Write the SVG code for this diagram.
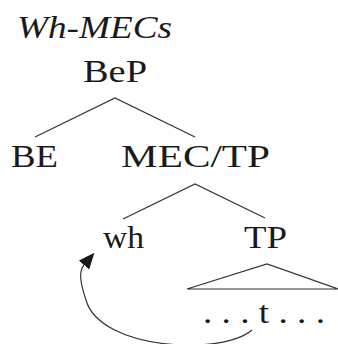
<svg xmlns="http://www.w3.org/2000/svg" width="338" height="344" viewBox="0 0 338 344">
<style>
text{font-family:"Liberation Serif","Times New Roman","Noto Serif","DejaVu Serif",serif;font-size:32px;fill:#1a1a1a}
.it{font-style:italic}
.l{stroke:#333;stroke-width:1.2;fill:none}
</style>
<defs>
<marker id="ah" markerUnits="userSpaceOnUse" markerWidth="16" markerHeight="14" refX="0" refY="6" orient="auto" viewBox="0 0 14 12">
<path d="M0,0 L14,6 L0,12 Z" fill="#1a1a1a"/>
</marker>
</defs>
<rect width="338" height="344" fill="#fff"/>
<g id="title"><text class="it" x="17" y="38" textLength="155" lengthAdjust="spacingAndGlyphs">Wh-MECs</text></g>
<g id="BeP"><text x="83" y="82" textLength="64" lengthAdjust="spacingAndGlyphs">BeP</text></g>
<g id="BE"><text x="11" y="167" textLength="47" lengthAdjust="spacingAndGlyphs">BE</text></g>
<g id="MEC-TP"><text x="121" y="167" textLength="149" lengthAdjust="spacingAndGlyphs">MEC/TP</text></g>
<g id="wh"><text x="103" y="248" textLength="41" lengthAdjust="spacingAndGlyphs">wh</text></g>
<g id="TP"><text x="244" y="248" textLength="43" lengthAdjust="spacingAndGlyphs">TP</text></g>
<g id="TP-content">
<path class="l" d="M187,289 L267,264 L338,289 Z"/>
<text x="203" y="323" textLength="122" lengthAdjust="spacingAndGlyphs">. . . t . . .</text>
</g>
<g id="connectors">
<path class="l" d="M35,137 L115,98 L195,137"/>
<path class="l" d="M123,219 L195,184 L265,218"/>
<path class="l" d="M252,330 C222,356 100,350 86,300 C81,285 78,272 84,265" marker-end="url(#ah)"/>
</g>
</svg>
